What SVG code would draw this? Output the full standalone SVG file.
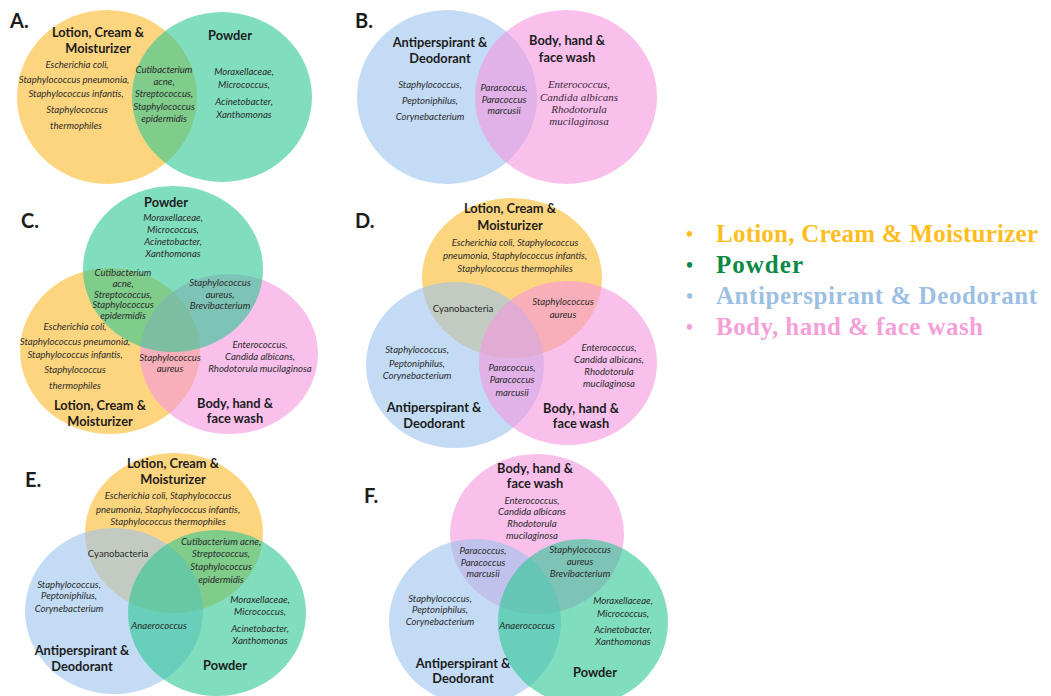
<svg xmlns="http://www.w3.org/2000/svg" width="1051" height="696" viewBox="0 0 1051 696">
<style>
.y{fill:#FCB92A;fill-opacity:.6}
.g{fill:#2BC693;fill-opacity:.6}
.b{fill:#9BC3ED;fill-opacity:.6}
.p{fill:#F596DF;fill-opacity:.6}
text{font-family:Lato,"Liberation Sans",sans-serif;text-anchor:middle;fill:#1c1c1c}
.let{font-size:20px;font-weight:bold;text-anchor:start}
.lb{font-size:12.8px;font-weight:bold}
.sp{font-size:9.6px;font-style:italic;fill:#2b2b2b}
.rg{font-size:9.6px;fill:#2b2b2b}
.tm{font-family:"Liberation Serif",serif;font-size:11px;font-style:italic;fill:#3a2a3a}
.leg{font-family:"Liberation Serif",serif;font-size:25px;font-weight:bold;text-anchor:start}
.bul{font-family:"Liberation Serif",serif;font-size:20px;font-weight:bold;text-anchor:start}
</style>
<rect width="1051" height="696" fill="#ffffff"/>

<g id="panelA">
<ellipse class="y" cx="107" cy="97" rx="90" ry="87"/>
<ellipse class="g" cx="222" cy="97" rx="90" ry="85"/>
<text class="let" x="10" y="28">A.</text>
<text class="lb" x="98" y="37">Lotion, Cream &amp;</text>
<text class="lb" x="98" y="53">Moisturizer</text>
<text class="lb" x="230" y="40">Powder</text>
<text class="sp" x="77" y="68">Escherichia coli,</text>
<text class="sp" x="74" y="83">Staphylococcus pneumonia,</text>
<text class="sp" x="76" y="97">Staphylococcus infantis,</text>
<text class="sp" x="77" y="113">Staphylococcus</text>
<text class="sp" x="76" y="129">thermophiles</text>
<text class="sp" x="164" y="73">Cutibacterium</text>
<text class="sp" x="164" y="85">acne,</text>
<text class="sp" x="164" y="97">Streptococcus,</text>
<text class="sp" x="164" y="110">Staphylococcus</text>
<text class="sp" x="164" y="122">epidermidis</text>
<text class="sp" x="244" y="75">Moraxellaceae,</text>
<text class="sp" x="244" y="88">Micrococcus,</text>
<text class="sp" x="244" y="105">Acinetobacter,</text>
<text class="sp" x="244" y="118">Xanthomonas</text>
</g>

<g id="panelB">
<ellipse class="b" cx="447" cy="97" rx="90" ry="87"/>
<ellipse class="p" cx="566" cy="97" rx="91" ry="87"/>
<text class="let" x="355" y="28">B.</text>
<text class="lb" x="440" y="47">Antiperspirant &amp;</text>
<text class="lb" x="440" y="63">Deodorant</text>
<text class="lb" x="567" y="45">Body, hand &amp;</text>
<text class="lb" x="567" y="62">face wash</text>
<text class="sp" x="430" y="88">Staphylococcus,</text>
<text class="sp" x="430" y="104">Peptoniphilus,</text>
<text class="sp" x="430" y="120">Corynebacterium</text>
<text class="sp" x="504" y="91">Paracoccus,</text>
<text class="sp" x="504" y="103">Paracoccus</text>
<text class="sp" x="504" y="114">marcusii</text>
<text class="tm" x="579" y="88">Enterococcus,</text>
<text class="tm" x="579" y="101">Candida albicans</text>
<text class="tm" x="579" y="113">Rhodotorula</text>
<text class="tm" x="579" y="125">mucilaginosa</text>
</g>

<g id="panelC">
<ellipse class="y" cx="110" cy="351" rx="90" ry="83"/>
<ellipse class="p" cx="229" cy="354" rx="89" ry="80"/>
<ellipse class="g" cx="173" cy="269" rx="90" ry="83"/>
<text class="let" x="21" y="228">C.</text>
<text class="lb" x="166" y="207">Powder</text>
<text class="sp" x="173" y="221">Moraxellaceae,</text>
<text class="sp" x="173" y="233">Micrococcus,</text>
<text class="sp" x="173" y="245">Acinetobacter,</text>
<text class="sp" x="173" y="257">Xanthomonas</text>
<text class="sp" x="123" y="276">Cutibacterium</text>
<text class="sp" x="123" y="287">acne,</text>
<text class="sp" x="123" y="298">Streptococcus,</text>
<text class="sp" x="123" y="308">Staphylococcus</text>
<text class="sp" x="123" y="319">epidermidis</text>
<text class="sp" x="220" y="286">Staphylococcus</text>
<text class="sp" x="220" y="298">aureus,</text>
<text class="sp" x="220" y="309">Brevibacterium</text>
<text class="sp" x="75" y="330">Escherichia coli,</text>
<text class="sp" x="75" y="345">Staphylococcus pneumonia,</text>
<text class="sp" x="75" y="358">Staphylococcus infantis,</text>
<text class="sp" x="75" y="373">Staphylococcus</text>
<text class="sp" x="75" y="389">thermophiles</text>
<text class="sp" x="170" y="361">Staphylococcus</text>
<text class="sp" x="170" y="372">aureus</text>
<text class="sp" x="260" y="348">Enterococcus,</text>
<text class="sp" x="260" y="360">Candida albicans,</text>
<text class="sp" x="260" y="372">Rhodotorula mucilaginosa</text>
<text class="lb" x="100" y="410">Lotion, Cream &amp;</text>
<text class="lb" x="100" y="426">Moisturizer</text>
<text class="lb" x="235" y="408">Body, hand &amp;</text>
<text class="lb" x="235" y="423">face wash</text>
</g>

<g id="panelD">
<ellipse class="y" cx="512" cy="278" rx="90" ry="80"/>
<ellipse class="b" cx="455" cy="365" rx="89" ry="83"/>
<ellipse class="p" cx="568" cy="363" rx="89" ry="82"/>
<text class="let" x="355" y="228">D.</text>
<text class="lb" x="510" y="213">Lotion, Cream &amp;</text>
<text class="lb" x="510" y="230">Moisturizer</text>
<text class="sp" x="515" y="246">Escherichia coli, Staphylococcus</text>
<text class="sp" x="515" y="259">pneumonia, Staphylococcus infantis,</text>
<text class="sp" x="515" y="272">Staphylococcus thermophiles</text>
<text class="rg" x="463" y="312">Cyanobacteria</text>
<text class="sp" x="563" y="305">Staphylococcus</text>
<text class="sp" x="563" y="318">aureus</text>
<text class="sp" x="417" y="353">Staphylococcus,</text>
<text class="sp" x="417" y="367">Peptoniphilus,</text>
<text class="sp" x="417" y="379">Corynebacterium</text>
<text class="sp" x="512" y="371">Paracoccus,</text>
<text class="sp" x="512" y="383">Paracoccus</text>
<text class="sp" x="512" y="396">marcusii</text>
<text class="sp" x="609" y="351">Enterococcus,</text>
<text class="sp" x="609" y="363">Candida albicans,</text>
<text class="sp" x="609" y="375">Rhodotorula</text>
<text class="sp" x="609" y="387">mucilaginosa</text>
<text class="lb" x="434" y="412">Antiperspirant &amp;</text>
<text class="lb" x="434" y="428">Deodorant</text>
<text class="lb" x="581" y="413">Body, hand &amp;</text>
<text class="lb" x="581" y="428">face wash</text>
</g>

<g id="panelE">
<ellipse class="y" cx="174" cy="533" rx="89" ry="80"/>
<ellipse class="b" cx="114" cy="611" rx="89" ry="83"/>
<ellipse class="g" cx="217" cy="613" rx="89" ry="83"/>
<text class="let" x="25" y="487">E.</text>
<text class="lb" x="173" y="468">Lotion, Cream &amp;</text>
<text class="lb" x="173" y="484">Moisturizer</text>
<text class="sp" x="168" y="499">Escherichia coli, Staphylococcus</text>
<text class="sp" x="168" y="513">pneumonia, Staphylococcus infantis,</text>
<text class="sp" x="168" y="525">Staphylococcus thermophiles</text>
<text class="rg" x="118" y="557">Cyanobacteria</text>
<text class="sp" x="221" y="545">Cutibacterium acne,</text>
<text class="sp" x="221" y="557">Streptococcus,</text>
<text class="sp" x="221" y="570">Staphylococcus</text>
<text class="sp" x="221" y="583">epidermidis</text>
<text class="sp" x="69" y="588">Staphylococcus,</text>
<text class="sp" x="69" y="599">Peptoniphilus,</text>
<text class="sp" x="69" y="612">Corynebacterium</text>
<text class="sp" x="260" y="603">Moraxellaceae,</text>
<text class="sp" x="260" y="615">Micrococcus,</text>
<text class="sp" x="260" y="632">Acinetobacter,</text>
<text class="sp" x="260" y="644">Xanthomonas</text>
<text class="sp" x="159" y="629">Anaerococcus</text>
<text class="lb" x="82" y="655">Antiperspirant &amp;</text>
<text class="lb" x="82" y="671">Deodorant</text>
<text class="lb" x="225" y="670">Powder</text>
</g>

<g id="panelF">
<ellipse class="p" cx="537" cy="534" rx="87" ry="80"/>
<ellipse class="b" cx="475" cy="622" rx="86" ry="83"/>
<ellipse class="g" cx="583" cy="622" rx="85" ry="83"/>
<text class="let" x="364" y="503">F.</text>
<text class="lb" x="535" y="473">Body, hand &amp;</text>
<text class="lb" x="535" y="488">face wash</text>
<text class="sp" x="532" y="504">Enterococcus,</text>
<text class="sp" x="532" y="515">Candida albicans</text>
<text class="sp" x="532" y="527">Rhodotorula</text>
<text class="sp" x="532" y="539">mucilaginosa</text>
<text class="sp" x="483" y="554">Paracoccus,</text>
<text class="sp" x="483" y="566">Paracoccus</text>
<text class="sp" x="483" y="577">marcusii</text>
<text class="sp" x="580" y="553">Staphylococcus</text>
<text class="sp" x="580" y="565">aureus</text>
<text class="sp" x="580" y="577">Brevibacterium</text>
<text class="sp" x="440" y="602">Staphylococcus,</text>
<text class="sp" x="440" y="613">Peptoniphilus,</text>
<text class="sp" x="440" y="625">Corynebacterium</text>
<text class="sp" x="527" y="629">Anaerococcus</text>
<text class="sp" x="623" y="604">Moraxellaceae,</text>
<text class="sp" x="623" y="617">Micrococcus,</text>
<text class="sp" x="623" y="633">Acinetobacter,</text>
<text class="sp" x="623" y="645">Xanthomonas</text>
<text class="lb" x="463" y="668">Antiperspirant &amp;</text>
<text class="lb" x="463" y="683">Deodorant</text>
<text class="lb" x="595" y="677">Powder</text>
</g>

<g id="legend">
<text class="bul" x="686" y="241" style="fill:#FFBE1E">•</text>
<text class="leg" x="716" y="242" textLength="322" lengthAdjust="spacing" style="fill:#FFBE1E">Lotion, Cream &amp; Moisturizer</text>
<text class="bul" x="686" y="272" style="fill:#0A8A45">•</text>
<text class="leg" x="716" y="273" textLength="87" lengthAdjust="spacing" style="fill:#0A8A45">Powder</text>
<text class="bul" x="686" y="303" style="fill:#9DBFE3">•</text>
<text class="leg" x="716" y="304" textLength="321" lengthAdjust="spacing" style="fill:#9DBFE3">Antiperspirant &amp; Deodorant</text>
<text class="bul" x="686" y="334" style="fill:#F59FD9">•</text>
<text class="leg" x="716" y="335" textLength="267" lengthAdjust="spacing" style="fill:#F59FD9">Body, hand &amp; face wash</text>
</g>
</svg>
